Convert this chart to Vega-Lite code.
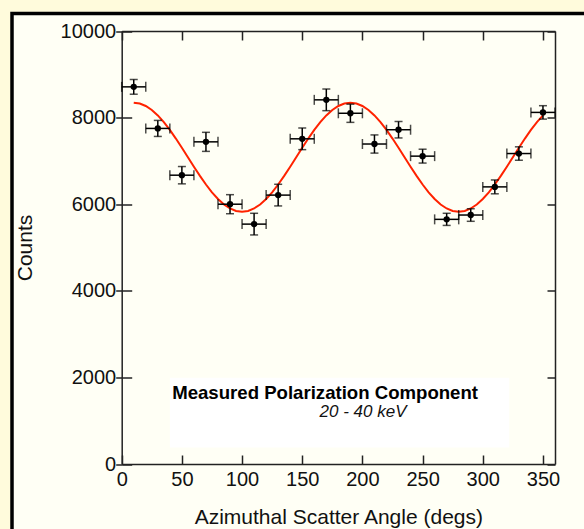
{
  "$schema": "https://vega.github.io/schema/vega-lite/v6.json",
  "width": 576,
  "height": 520,
  "autosize": {"type": "none"},
  "padding": {"left": 12, "top": 13.5, "right": 0, "bottom": 0},
  "background": "#fffbdc",
  "config": {
    "view": {"fill": "#fffff5", "stroke": "#000000", "strokeWidth": 3.5},
    "axis": {
      "grid": false,
      "labelFont": "Liberation Sans",
      "labelFontSize": 20,
      "labelColor": "#111111",
      "labelFlush": false,
      "format": "d",
      "titleFont": "Liberation Sans",
      "titleFontSize": 21,
      "titleFontWeight": "normal",
      "titleColor": "#111111",
      "domainColor": "#222222",
      "domainWidth": 1.5,
      "tickColor": "#222222",
      "tickWidth": 1.5
    }
  },
  "datasets": {
    "points": [
      {"angle": 10, "counts": 8710, "xlo": 0, "xhi": 20, "ylo": 8540, "yhi": 8880},
      {"angle": 30, "counts": 7750, "xlo": 20, "xhi": 40, "ylo": 7565, "yhi": 7935},
      {"angle": 50, "counts": 6670, "xlo": 40, "xhi": 60, "ylo": 6470, "yhi": 6870},
      {"angle": 70, "counts": 7440, "xlo": 60, "xhi": 80, "ylo": 7220, "yhi": 7660},
      {"angle": 90, "counts": 6000, "xlo": 80, "xhi": 100, "ylo": 5780, "yhi": 6220},
      {"angle": 110, "counts": 5540, "xlo": 100, "xhi": 120, "ylo": 5290, "yhi": 5790},
      {"angle": 130, "counts": 6210, "xlo": 120, "xhi": 140, "ylo": 5960, "yhi": 6460},
      {"angle": 150, "counts": 7510, "xlo": 140, "xhi": 160, "ylo": 7260, "yhi": 7760},
      {"angle": 170, "counts": 8410, "xlo": 160, "xhi": 180, "ylo": 8160, "yhi": 8660},
      {"angle": 190, "counts": 8100, "xlo": 180, "xhi": 200, "ylo": 7890, "yhi": 8310},
      {"angle": 210, "counts": 7390, "xlo": 200, "xhi": 220, "ylo": 7180, "yhi": 7600},
      {"angle": 230, "counts": 7720, "xlo": 220, "xhi": 240, "ylo": 7530, "yhi": 7910},
      {"angle": 250, "counts": 7110, "xlo": 240, "xhi": 260, "ylo": 6950, "yhi": 7270},
      {"angle": 270, "counts": 5650, "xlo": 260, "xhi": 280, "ylo": 5510, "yhi": 5790},
      {"angle": 290, "counts": 5750, "xlo": 280, "xhi": 300, "ylo": 5605, "yhi": 5895},
      {"angle": 310, "counts": 6400, "xlo": 300, "xhi": 320, "ylo": 6240, "yhi": 6560},
      {"angle": 330, "counts": 7170, "xlo": 320, "xhi": 340, "ylo": 7015, "yhi": 7325},
      {"angle": 350, "counts": 8120, "xlo": 340, "xhi": 360, "ylo": 7965, "yhi": 8275}
    ],
    "curve": [
      {"angle": 10, "fit": 8345}, {"angle": 15, "fit": 8326}, {"angle": 20, "fit": 8269}, {"angle": 25, "fit": 8176},
      {"angle": 30, "fit": 8050}, {"angle": 35, "fit": 7895}, {"angle": 40, "fit": 7715}, {"angle": 45, "fit": 7516},
      {"angle": 50, "fit": 7304}, {"angle": 55, "fit": 7085}, {"angle": 60, "fit": 6866}, {"angle": 65, "fit": 6654},
      {"angle": 70, "fit": 6455}, {"angle": 75, "fit": 6275}, {"angle": 80, "fit": 6120}, {"angle": 85, "fit": 5994},
      {"angle": 90, "fit": 5901}, {"angle": 95, "fit": 5844}, {"angle": 100, "fit": 5825}, {"angle": 105, "fit": 5844},
      {"angle": 110, "fit": 5901}, {"angle": 115, "fit": 5994}, {"angle": 120, "fit": 6120}, {"angle": 125, "fit": 6275},
      {"angle": 130, "fit": 6455}, {"angle": 135, "fit": 6654}, {"angle": 140, "fit": 6866}, {"angle": 145, "fit": 7085},
      {"angle": 150, "fit": 7304}, {"angle": 155, "fit": 7516}, {"angle": 160, "fit": 7715}, {"angle": 165, "fit": 7895},
      {"angle": 170, "fit": 8050}, {"angle": 175, "fit": 8176}, {"angle": 180, "fit": 8269}, {"angle": 185, "fit": 8326},
      {"angle": 190, "fit": 8345}, {"angle": 195, "fit": 8326}, {"angle": 200, "fit": 8269}, {"angle": 205, "fit": 8176},
      {"angle": 210, "fit": 8050}, {"angle": 215, "fit": 7895}, {"angle": 220, "fit": 7715}, {"angle": 225, "fit": 7516},
      {"angle": 230, "fit": 7304}, {"angle": 235, "fit": 7085}, {"angle": 240, "fit": 6866}, {"angle": 245, "fit": 6654},
      {"angle": 250, "fit": 6455}, {"angle": 255, "fit": 6275}, {"angle": 260, "fit": 6120}, {"angle": 265, "fit": 5994},
      {"angle": 270, "fit": 5901}, {"angle": 275, "fit": 5844}, {"angle": 280, "fit": 5825}, {"angle": 285, "fit": 5844},
      {"angle": 290, "fit": 5901}, {"angle": 295, "fit": 5994}, {"angle": 300, "fit": 6120}, {"angle": 305, "fit": 6275},
      {"angle": 310, "fit": 6455}, {"angle": 315, "fit": 6654}, {"angle": 320, "fit": 6866}, {"angle": 325, "fit": 7085},
      {"angle": 330, "fit": 7304}, {"angle": 335, "fit": 7516}, {"angle": 340, "fit": 7715}, {"angle": 345, "fit": 7895},
      {"angle": 350, "fit": 8050}
    ],
    "label": [
      {"title": "Measured Polarization Component", "energy": "20 - 40 keV"}
    ]
  },
  "layer": [
    {
      "data": {"name": "label"},
      "mark": {"type": "rect", "fill": "#ffffff"},
      "encoding": {
        "x": {"datum": 40, "type": "quantitative", "scale": {"domain": [0, 360], "range": [109.7, 543], "nice": false, "zero": false}, "axis": null},
        "x2": {"datum": 322},
        "y": {"datum": 1990, "type": "quantitative", "scale": {"domain": [0, 10000], "range": [450.5, 17.5], "nice": false, "zero": false}, "axis": null},
        "y2": {"datum": 380}
      }
    },
    {
      "data": {"name": "curve"},
      "mark": {"type": "line", "color": "#ff2200", "strokeWidth": 2},
      "encoding": {
        "x": {"field": "angle", "type": "quantitative", "axis": null},
        "y": {"field": "fit", "type": "quantitative", "axis": null}
      }
    },
    {
      "data": {"name": "points"},
      "mark": {"type": "rule", "color": "#000000", "strokeWidth": 1.5},
      "encoding": {
        "x": {"field": "xlo", "type": "quantitative", "title": "Azimuthal Scatter Angle (degs)",
          "axis": {"orient": "bottom", "offset": -69.5, "values": [0, 50, 100, 150, 200, 250, 300, 350], "tickSize": -9, "labelPadding": 14, "titlePadding": 17}},
        "x2": {"field": "xhi"},
        "y": {"field": "counts", "type": "quantitative", "title": "Counts",
          "axis": {"orient": "left", "offset": -109.7, "values": [0, 2000, 4000, 6000, 8000, 10000], "tickSize": 6, "labelPadding": 0, "titlePadding": 25}}
      }
    },
    {
      "data": {"name": "points"},
      "mark": {"type": "rule", "color": "#000000", "strokeWidth": 1.5},
      "encoding": {
        "x": {"field": "angle", "type": "quantitative",
          "axis": {"orient": "top", "offset": -17.5, "values": [0, 50, 100, 150, 200, 250, 300, 350], "tickSize": -9, "labels": false, "title": null}},
        "y": {"field": "ylo", "type": "quantitative",
          "axis": {"orient": "right", "offset": -33, "values": [0, 2000, 4000, 6000, 8000, 10000], "tickSize": -8, "labels": false, "title": null}},
        "y2": {"field": "yhi"}
      }
    },
    {
      "data": {"name": "points"},
      "mark": {"type": "tick", "orient": "vertical", "color": "#000000", "size": 10, "thickness": 1.5},
      "encoding": {
        "x": {"field": "xlo", "type": "quantitative", "axis": null},
        "y": {"field": "counts", "type": "quantitative",
          "axis": {"orient": "left", "offset": -109.7, "values": [0, 2000, 4000, 6000, 8000, 10000], "tickSize": -10, "labels": false, "domain": false, "title": null}}
      }
    },
    {
      "data": {"name": "points"},
      "mark": {"type": "tick", "orient": "vertical", "color": "#000000", "size": 10, "thickness": 1.5},
      "encoding": {
        "x": {"field": "xhi", "type": "quantitative", "axis": null},
        "y": {"field": "counts", "type": "quantitative", "axis": null}
      }
    },
    {
      "data": {"name": "points"},
      "mark": {"type": "tick", "orient": "horizontal", "color": "#000000", "size": 8, "thickness": 1.5},
      "encoding": {
        "x": {"field": "angle", "type": "quantitative", "axis": null},
        "y": {"field": "ylo", "type": "quantitative", "axis": null}
      }
    },
    {
      "data": {"name": "points"},
      "mark": {"type": "tick", "orient": "horizontal", "color": "#000000", "size": 8, "thickness": 1.5},
      "encoding": {
        "x": {"field": "angle", "type": "quantitative", "axis": null},
        "y": {"field": "yhi", "type": "quantitative", "axis": null}
      }
    },
    {
      "data": {"name": "points"},
      "mark": {"type": "point", "filled": true, "color": "#000000", "size": 40, "opacity": 1},
      "encoding": {
        "x": {"field": "angle", "type": "quantitative", "axis": null},
        "y": {"field": "counts", "type": "quantitative", "axis": null}
      }
    },
    {
      "data": {"name": "label"},
      "mark": {"type": "text", "font": "Liberation Sans", "fontSize": 18.6, "fontWeight": "bold", "color": "#000000", "align": "center", "baseline": "middle"},
      "encoding": {
        "x": {"datum": 169, "type": "quantitative", "axis": null},
        "y": {"datum": 1639, "type": "quantitative", "axis": null},
        "text": {"field": "title"}
      }
    },
    {
      "data": {"name": "label"},
      "mark": {"type": "text", "font": "Liberation Sans", "fontSize": 17, "fontStyle": "italic", "color": "#111111", "align": "center", "baseline": "middle"},
      "encoding": {
        "x": {"datum": 200.5, "type": "quantitative", "axis": null},
        "y": {"datum": 1200, "type": "quantitative", "axis": null},
        "text": {"field": "energy"}
      }
    }
  ],
  "resolve": {"axis": {"x": "independent", "y": "independent"}}
}
